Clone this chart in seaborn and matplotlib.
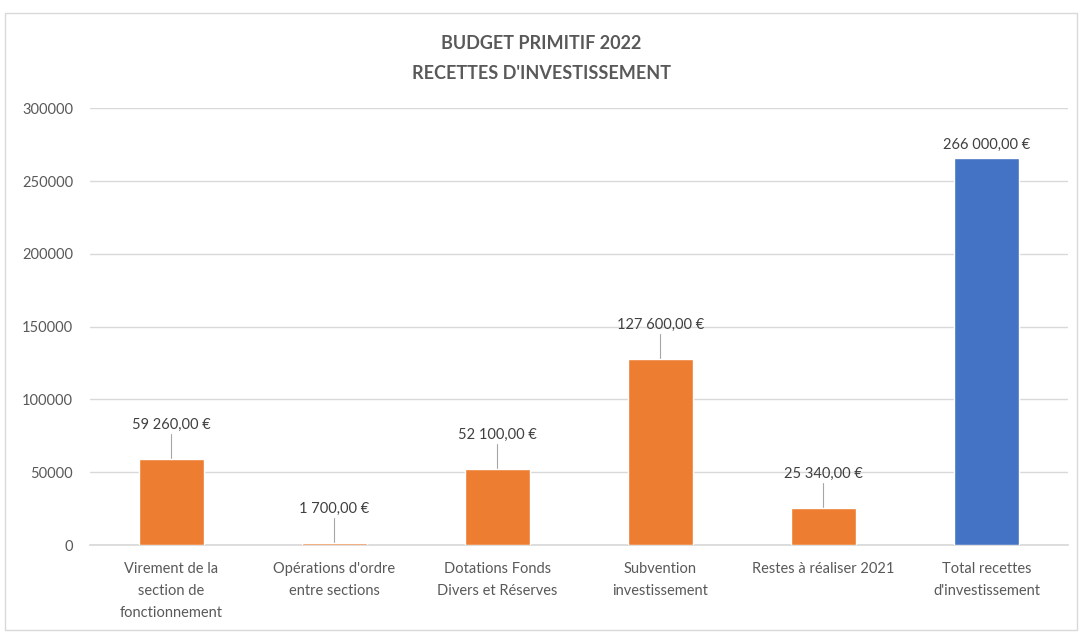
import matplotlib
matplotlib.use("Agg")
import matplotlib.pyplot as plt
import seaborn as sns
import pandas as pd
from matplotlib.patches import Rectangle

categories = ["Virement de la\nsection de\nfonctionnement",
              "Opérations d'ordre\nentre sections",
              "Dotations Fonds\nDivers et Réserves",
              "Subvention\ninvestissement",
              "Restes à réaliser 2021",
              "Total recettes\nd'investissement"]
values = [59260, 1700, 52100, 127600, 25340, 266000]
labels = ["59 260,00 €", "1 700,00 €", "52 100,00 €", "127 600,00 €", "25 340,00 €", "266 000,00 €"]
colors = ["#ED7D31", "#ED7D31", "#ED7D31", "#ED7D31", "#ED7D31", "#4472C4"]
yticks = [0, 50000, 100000, 150000, 200000, 250000, 300000]

sns.set_theme(style="white")
plt.rcParams['font.family'] = ['Lato', 'DejaVu Sans']

fig = plt.figure(figsize=(10.82, 6.33), dpi=100)
ax = fig.add_axes([0.083, 0.139, 0.904, 0.690])

df = pd.DataFrame({"cat": categories, "val": values})
sns.barplot(data=df, x="cat", y="val", hue="cat", palette=colors, legend=False,
            width=0.4, ax=ax, saturation=1, zorder=3)

ax.set_ylim(0, 300000)
ax.set_xlim(-0.5, len(categories) - 0.5)
ax.set_yticks(yticks)
ax.set_yticklabels([str(t) for t in yticks], color="#595959", fontsize=10.5)
ax.tick_params(axis="x", colors="#595959", labelsize=10.5, length=0, pad=12)
ax.tick_params(axis="y", length=0, pad=12)
for t in ax.get_xticklabels():
    t.set_linespacing(1.75)
ax.set_xlabel("")
ax.set_ylabel("")
ax.grid(axis="y", color="#D9D9D9", linewidth=1)
ax.set_axisbelow(True)
for s in ["top", "right", "left"]:
    ax.spines[s].set_visible(False)
ax.spines["bottom"].set_color("#D9D9D9")
ax.spines["bottom"].set_zorder(1)

for i, (v, lab) in enumerate(zip(values, labels)):
    if i == len(values) - 1:
        ax.text(i, v + 4000, lab, ha="center", va="bottom", fontsize=10.5, color="#404040")
    else:
        ly = v + 17000
        ax.plot([i, i], [v, ly], color="#A6A6A6", linewidth=0.8, zorder=2)
        ax.text(i, ly + 1500, lab, ha="center", va="bottom", fontsize=10.5, color="#404040")

fig.text(0.5, 0.932, "BUDGET PRIMITIF 2022", ha="center", va="center",
         fontsize=13, fontweight="bold", color="#595959")
fig.text(0.5, 0.884, "RECETTES D'INVESTISSEMENT", ha="center", va="center",
         fontsize=13, fontweight="bold", color="#595959")

fig.patches.append(Rectangle((0.005, 0.005), 0.99, 0.975, transform=fig.transFigure,
                             fill=False, edgecolor="#D9D9D9", linewidth=1))

fig.savefig("out.png", dpi=100)
